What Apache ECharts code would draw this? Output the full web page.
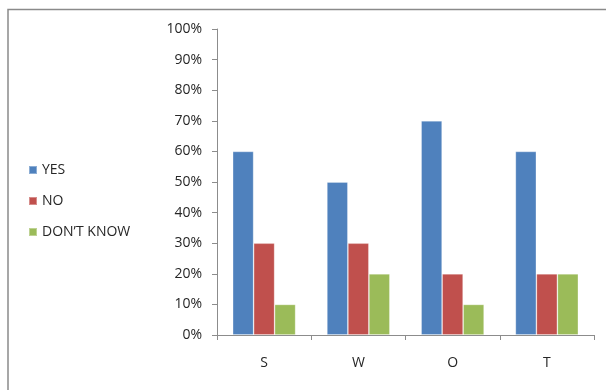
<!DOCTYPE html>
<html>
<head>
<meta charset="utf-8">
<script src="https://cdn.jsdelivr.net/npm/echarts@6/dist/echarts.min.js"></script>
<style>
  html, body { margin: 0; padding: 0; background: #fff; }
  #chart { width: 606px; height: 390px; }
</style>
</head>
<body>
<div id="chart"></div>
<script>
// Survey answers per group, as shares of respondents
const categories = ['S', 'W', 'O', 'T'];
const yesValues = [0.6, 0.5, 0.7, 0.6];
const noValues = [0.3, 0.3, 0.2, 0.2];
const dontKnowValues = [0.1, 0.2, 0.1, 0.2];
const seriesNames = ['YES', 'NO', 'DON\u2019T KNOW'];

const font = '"Open Sans", "Liberation Sans", sans-serif';
const textColor = '#262626';
const axisGray = '#8c8c8c';

const chart = echarts.init(document.getElementById('chart'), null, { renderer: 'canvas' });

function barSeries(name, data, color) {
  return {
    name: name,
    type: 'bar',
    data: data,
    barWidth: 21,
    barGap: '0%',
    itemStyle: { color: color, borderColor: 'rgba(255,255,255,0.35)', borderWidth: 0.8 }
  };
}

chart.setOption({
  animation: false,
  textStyle: { fontFamily: font },
  graphic: [{
    type: 'rect',
    shape: { x: 8, y: 9.5, width: 620, height: 400 },
    style: { fill: 'none', stroke: '#8a8a8a', lineWidth: 1.5 },
    silent: true
  }],
  legend: {
    orient: 'vertical',
    left: 23,
    top: 158,
    itemWidth: 8,
    itemHeight: 8,
    itemGap: 17,
    icon: 'rect',
    textStyle: { color: textColor, fontSize: 14, fontFamily: font },
    data: seriesNames
  },
  grid: { left: 217, right: 12, top: 29, bottom: 55 },
  xAxis: {
    type: 'category',
    data: categories,
    axisLine: { lineStyle: { color: axisGray, width: 1 } },
    axisTick: { show: true, length: 5, alignWithLabel: false, lineStyle: { color: axisGray } },
    axisLabel: { color: textColor, fontSize: 14, margin: 21, fontFamily: font }
  },
  yAxis: {
    type: 'value',
    min: 0,
    max: 1,
    interval: 0.1,
    splitLine: { show: false },
    axisLine: { show: true, lineStyle: { color: axisGray, width: 1 } },
    axisTick: { show: true, length: 5, lineStyle: { color: axisGray } },
    axisLabel: {
      color: textColor,
      fontSize: 14,
      margin: 15,
      fontFamily: font,
      formatter: v => Math.round(v * 100) + '%'
    }
  },
  series: [
    barSeries(seriesNames[0], yesValues, '#4F81BD'),
    barSeries(seriesNames[1], noValues, '#C0504D'),
    barSeries(seriesNames[2], dontKnowValues, '#9BBB59')
  ]
});
</script>
</body>
</html>
